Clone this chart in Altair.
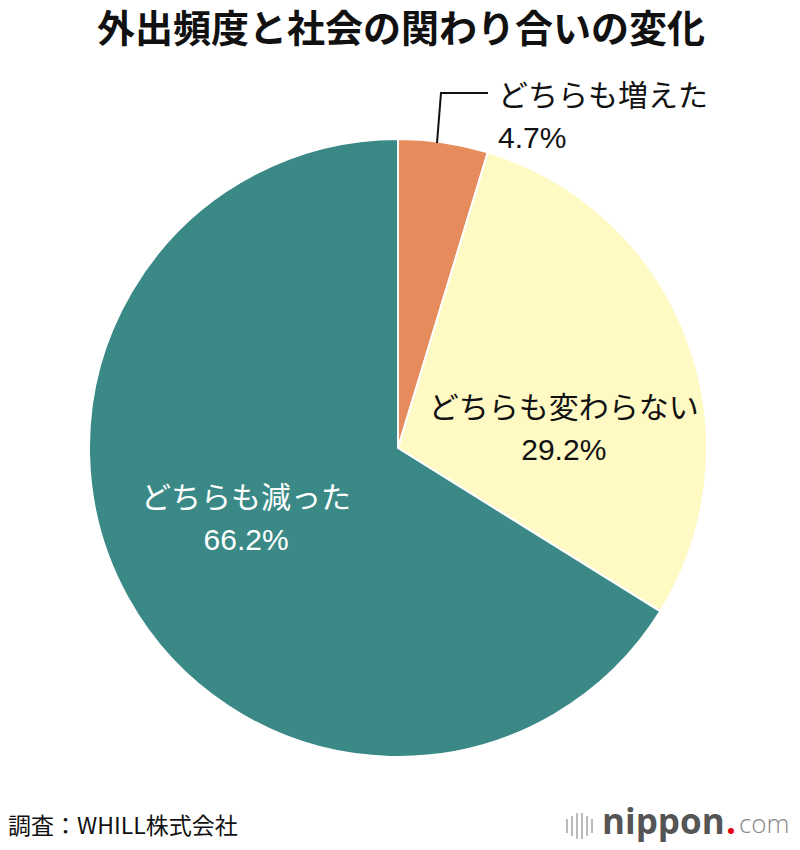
import altair as alt
import pandas as pd

categories = ["どちらも増えた", "どちらも変わらない", "どちらも減った"]
values = [4.7, 29.2, 66.2]
colors = ["#E58B5C", "#FFF9C4", "#3A8986"]
pct_labels = ["4.7%", "29.2%", "66.2%"]

df = pd.DataFrame({
    "cat": categories,
    "value": values,
    "order": [1, 2, 3],
    "pct": pct_labels,
})
df["lbl_mid"] = [("" if c != "どちらも変わらない" else c + "\n" + p) for c, p in zip(categories, pct_labels)]
df["lbl_low"] = [("" if c != "どちらも減った" else c + "\n" + p) for c, p in zip(categories, pct_labels)]

JP = "Liberation Sans, Noto Sans CJK JP"
CX, CY, R = 390, 440, 309

theta = alt.Theta("value:Q", stack=True)
order = alt.Order("order:Q", sort="ascending")

arc = alt.Chart(df).mark_arc(radius=R, stroke="white", strokeWidth=2).encode(
    theta=theta,
    order=order,
    color=alt.Color("cat:N", scale=alt.Scale(domain=categories, range=colors), legend=None),
    x=alt.value(CX), y=alt.value(CY),
)

txt_mid = alt.Chart(df).mark_text(
    radius=160, font=JP, fontSize=30, lineBreak="\n", lineHeight=42,
    align="center", baseline="middle", color="#111111", dx=16, dy=17,
).encode(theta=theta, order=order, text="lbl_mid:N", x=alt.value(CX), y=alt.value(CY))

txt_low = alt.Chart(df).mark_text(
    radius=160, font=JP, fontSize=30, lineBreak="\n", lineHeight=42,
    align="center", baseline="middle", color="white", dx=-12, dy=-27,
).encode(theta=theta, order=order, text="lbl_low:N", x=alt.value(CX), y=alt.value(CY))

out_df = df[df["cat"] == "どちらも増えた"]
out_lbl = alt.Chart(out_df).mark_text(
    font=JP, fontSize=30, align="left", baseline="middle", color="#111111",
).encode(text="cat:N", x=alt.value(490), y=alt.value(89))
out_pct = alt.Chart(out_df).mark_text(
    font=JP, fontSize=30, align="left", baseline="middle", color="#111111",
).encode(text="pct:N", x=alt.value(490), y=alt.value(131))

lead1 = alt.Chart(out_df).mark_rule(color="#111111", strokeWidth=2).encode(
    x=alt.value(429), y=alt.value(135), x2=alt.value(433), y2=alt.value(85))
lead2 = alt.Chart(out_df).mark_rule(color="#111111", strokeWidth=2).encode(
    x=alt.value(432), y=alt.value(85), x2=alt.value(480), y2=alt.value(85))

title_df = pd.DataFrame({"t": ["外出頻度と社会の関わり合いの変化"]})
title = alt.Chart(title_df).mark_text(
    font="Noto Sans CJK JP", fontWeight="bold", fontSize=38, align="center",
    baseline="middle", color="#111111",
).encode(text="t:N", x=alt.value(393), y=alt.value(23))

src_df = pd.DataFrame({"t": ["調査：WHILL株式会社"]})
source = alt.Chart(src_df).mark_text(
    font="Noto Sans CJK JP", fontSize=23, align="left", baseline="middle", color="#111111",
).encode(text="t:N", x=alt.value(0), y=alt.value(819))

logo_n = alt.Chart(pd.DataFrame({"t": ["nippon"]})).mark_text(
    font="Open Sans", fontWeight="bold", fontSize=35, align="left", baseline="middle", color="#555555",
).encode(text="t:N", x=alt.value(594), y=alt.value(815))
logo_dot = alt.Chart(pd.DataFrame({"t": ["."]})).mark_text(
    font="Open Sans", fontWeight="bold", fontSize=35, align="left", baseline="middle", color="#E60012",
).encode(text="t:N", x=alt.value(718), y=alt.value(815))
logo_com = alt.Chart(pd.DataFrame({"t": ["com"]})).mark_text(
    font="Open Sans", fontWeight=300, fontSize=26, align="left", baseline="middle", color="#888888",
).encode(text="t:N", x=alt.value(731), y=alt.value(817))

bars_x = [559, 564, 569, 574, 579, 584]
bars_h = [7, 10, 13, 13, 10, 7]
bars = []
for bx, bh in zip(bars_x, bars_h):
    bars.append(alt.Chart(out_df).mark_rule(color="#BBBBBB", strokeWidth=2).encode(
        x=alt.value(bx), y=alt.value(818 - bh), y2=alt.value(818 + bh)))

chart = alt.layer(arc, txt_mid, txt_low, out_lbl, out_pct, lead1, lead2, title, source,
                  logo_n, logo_dot, logo_com, *bars).properties(
    width=784, height=834, padding=0, autosize=alt.AutoSizeParams(type="none"),
    background="white",
).configure_view(stroke=None)

chart.save("out.html", embed_options={"renderer": "svg", "actions": False})
